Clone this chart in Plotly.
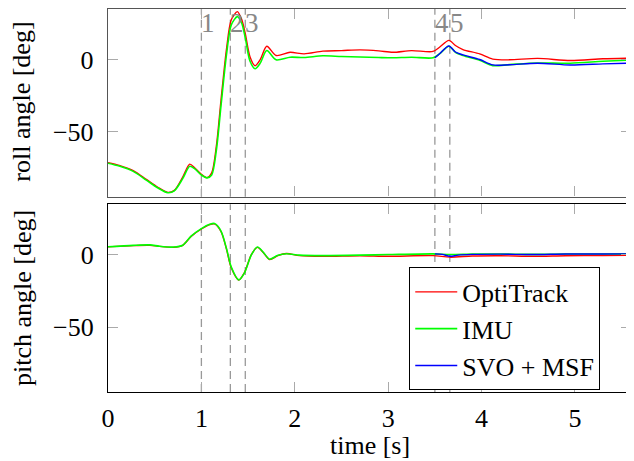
import plotly.graph_objects as go

# ---------------- data ----------------
t_roll = [0, 0.12, 0.27, 0.41, 0.53, 0.64, 0.71, 0.80, 0.875, 0.93, 1.0, 1.06, 1.11,
          1.16, 1.21, 1.27, 1.32, 1.385, 1.43, 1.47, 1.52, 1.575, 1.63, 1.70, 1.80,
          1.95, 2.10, 2.30, 2.50, 2.70, 2.90, 3.05, 3.25, 3.48, 3.55, 3.65, 3.72,
          3.80, 3.98, 4.12, 4.30, 4.60, 4.95, 5.30, 5.60]
roll_optitrack = [-71.4, -73.3, -77.0, -83.0, -88.3, -92.0, -90.6, -81.4, -72.5, -75.2,
                  -79.5, -81.8, -78.5, -60.0, -28.0, 8.0, 27.5, 33.2, 28.0, 18.0, 2.0,
                  -4.3, 0.0, 9.2, 2.8, 5.0, 3.9, 5.8, 6.2, 6.7, 6.0, 5.0, 6.2, 5.6, 8.5,
                  13.3, 9.7, 6.9, 3.9, 0.3, -0.2, 0.8, -0.7, 0.5, 1.0]
roll_imu = [-71.8, -73.8, -77.5, -83.5, -88.8, -92.3, -91.0, -82.5, -74.0, -75.8,
            -80.0, -82.0, -80.0, -63.0, -32.0, 4.0, 24.0, 29.7, 25.5, 15.0, -1.0,
            -6.4, -2.5, 6.2, -0.2, 1.6, 1.4, 2.6, 2.1, 1.8, 1.4, 1.2, 1.6, 1.2, 3.9,
            9.2, 5.0, 2.8, -0.5, -4.2, -3.5, -2.4, -2.6, -1.2, -0.3]
t_svo_roll = [3.50, 3.55, 3.65, 3.72, 3.80, 3.98, 4.12, 4.30, 4.60, 4.95, 5.30, 5.60]
roll_svo = [1.2, 4.0, 9.4, 5.2, 3.2, 0.0, -3.7, -3.6, -2.6, -3.8, -3.0, -2.5]

t_pitch = [0, 0.27, 0.45, 0.55, 0.70, 0.80, 0.89, 1.0, 1.09, 1.14, 1.21, 1.27, 1.32,
           1.40, 1.46, 1.535, 1.60, 1.66, 1.73, 1.82, 1.91, 2.05, 2.3, 2.7, 3.0, 3.48,
           3.66, 3.9, 4.2, 4.55, 4.9, 5.3, 5.6]
pitch_optitrack = [5.5, 6.4, 6.6, 5.9, 5.2, 6.6, 12.8, 17.9, 21.0, 21.5, 16.2, 3.6,
                   -9.0, -17.5, -12.4, 0.2, 5.2, 1.8, -3.2, -0.5, 0.9, -0.5, -1.0, -0.6,
                   -1.0, -0.5, -1.6, -0.8, -0.6, -1.0, -0.6, -0.4, -0.2]
pitch_imu = [5.6, 6.6, 6.9, 6.0, 5.4, 6.7, 13.0, 18.2, 21.2, 21.7, 16.5, 4.0, -8.5,
             -17.3, -12.6, 0.0, 5.4, 2.0, -3.0, -0.3, 0.8, -0.2, -0.5, -0.2, 0.2, 0.7,
             0.2, 0.5, 0.6, 0.3, 0.6, 0.6, 0.7]
t_svo_pitch = [3.50, 3.58, 3.66, 3.75, 3.9, 4.2, 4.55, 4.9, 5.3, 5.6]
pitch_svo = [0.7, 0.3, -1.0, -0.2, 0.3, 0.5, 0.2, 0.6, 0.6, 0.7]

event_times = [1.0, 1.31, 1.47, 3.50, 3.66]
event_labels = ["1", "2", "3", "4", "5"]

x_ticks = [0, 1, 2, 3, 4, 5]
y_ticks = [-50, 0]
series_names = ["OptiTrack", "IMU", "SVO + MSF"]
colors = ["#ff0000", "#00ff00", "#0000ff"]

# ---------------- figure ----------------
FONT = "Liberation Serif, Times New Roman, Tinos, DejaVu Serif, serif"
fig = go.Figure()

def add(x, y, i, xa, ya, show):
    fig.add_trace(go.Scatter(
        x=x, y=y, mode="lines", name=series_names[i], xaxis=xa, yaxis=ya,
        line=dict(color=colors[i], width=1.4 if i != 1 else 1.6, shape="spline", smoothing=0.8),
        showlegend=show, legendrank=i))

add(t_roll, roll_optitrack, 0, "x", "y", False)
add(t_roll, roll_imu, 1, "x", "y", False)
add(t_svo_roll, roll_svo, 2, "x", "y", False)
add(t_pitch, pitch_optitrack, 0, "x2", "y2", True)
add(t_pitch, pitch_imu, 1, "x2", "y2", True)
add(t_svo_pitch, pitch_svo, 2, "x2", "y2", True)

shapes = []
for te in event_times:
    for xr, yr in (("x", "y domain"), ("x2", "y2 domain")):
        shapes.append(dict(type="line", xref=xr, yref=yr, x0=te, x1=te, y0=0, y1=1,
                           line=dict(color="#999999", width=1.3, dash="8px,5px"),
                           layer="below"))

annotations = []
for te, lab in zip(event_times, event_labels):
    annotations.append(dict(x=te, y=25, xref="x", yref="y", text=lab, showarrow=False,
                            xanchor="left", yanchor="middle", xshift=-2,
                            font=dict(family=FONT, size=27, color="#888888")))
annotations += [
    dict(x=-0.1644, y=0.758, xref="paper", yref="paper", text="roll angle [deg]",
         textangle=-90, showarrow=False, xanchor="center", yanchor="middle",
         font=dict(family=FONT, size=26, color="black")),
    dict(x=-0.1644, y=0.2454, xref="paper", yref="paper", text="pitch angle [deg]",
         textangle=-90, showarrow=False, xanchor="center", yanchor="middle",
         font=dict(family=FONT, size=26, color="black")),
    dict(x=0.501, y=-0.139, xref="paper", yref="paper", text="time [s]",
         showarrow=False, xanchor="center", yanchor="middle",
         font=dict(family=FONT, size=26, color="black")),
]

axis_common = dict(showgrid=False, zeroline=False, ticks="inside", ticklen=10,
                   tickwidth=1.3, tickcolor="#aaaaaa", showline=True, mirror="allticks",
                   tickfont=dict(family=FONT, size=26, color="black"), automargin=False)

# page body has an 8px margin, so the figure is sized to the visible area
fig.update_layout(
    width=626, height=453,
    margin=dict(l=100, r=3, t=1, b=69),
    plot_bgcolor="white", paper_bgcolor="white",
    xaxis=dict(domain=[0, 1], range=[0, 5.6], tickvals=x_ticks, showticklabels=False,
               anchor="y", linecolor="#555555", linewidth=1.4, **axis_common),
    yaxis=dict(domain=[0.51, 1], range=[-95, 35], tickvals=y_ticks, anchor="x",
               linecolor="#555555", linewidth=1.4, ticklabelstandoff=8, **axis_common),
    xaxis2=dict(domain=[0, 1], range=[0, 5.6], tickvals=x_ticks, anchor="y2",
                linecolor="black", linewidth=1.2, ticklabelstandoff=3, **axis_common),
    yaxis2=dict(domain=[0, 0.49], range=[-95, 35], tickvals=y_ticks, anchor="x2",
                linecolor="black", linewidth=1.2, ticklabelstandoff=8, **axis_common),
    shapes=shapes,
    annotations=annotations,
    legend=dict(x=0.576, y=0.004, xanchor="left", yanchor="bottom",
                bgcolor="white", bordercolor="black", borderwidth=1,
                font=dict(family=FONT, size=26, color="black"),
                itemwidth=42, tracegroupgap=0, entrywidth=165, entrywidthmode="pixels"),
    showlegend=True,
)

fig.write_html("out.html")
